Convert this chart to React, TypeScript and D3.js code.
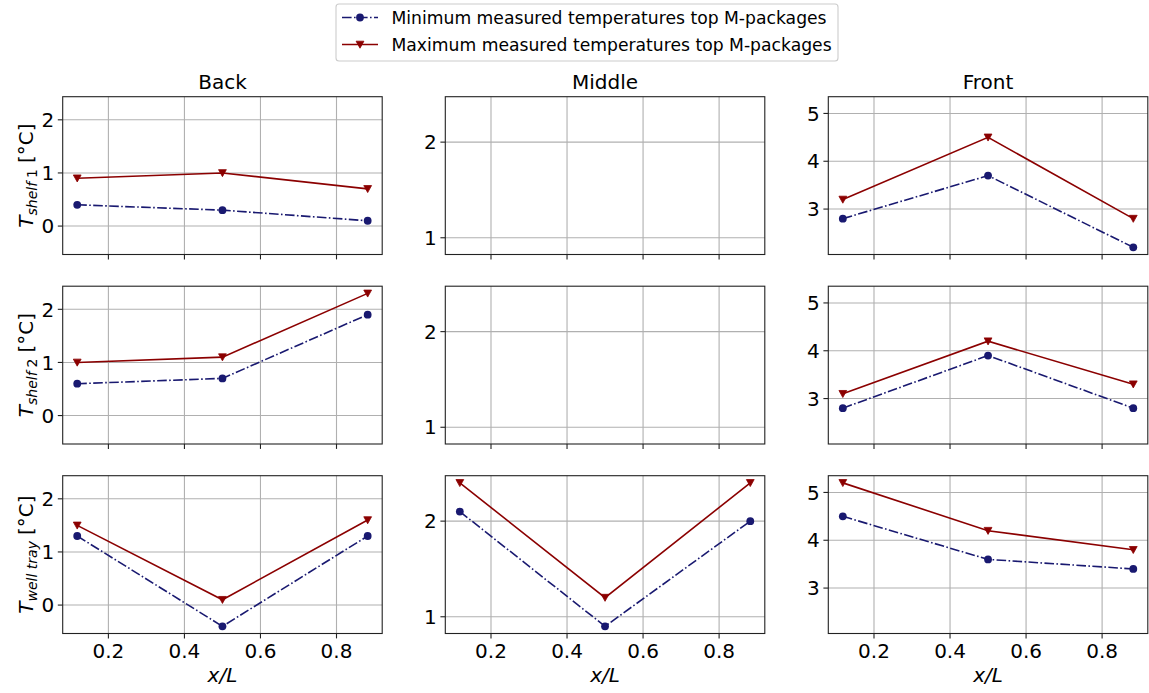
import React from "react";
import * as d3 from "d3";

// ---------- data ----------
const xPositions = [0.118, 0.5, 0.882];
const columnTitles = ["Back", "Middle", "Front"];
const rowSubscripts = [["shelf", "1"], ["shelf", "2"], ["well tray", ""]];
const xTicks = [0.2, 0.4, 0.6, 0.8];
const yTicksBack = [0, 1, 2];
const yTicksMiddle = [1, 2];
const yTicksFront = [3, 4, 5];

// rows: shelf 1, shelf 2, well tray
const backMin = [[0.4, 0.3, 0.1], [0.6, 0.7, 1.9], [1.3, -0.4, 1.3]];
const backMax = [[0.9, 1.0, 0.7], [1.0, 1.1, 2.3], [1.5, 0.1, 1.6]];
const middleMin = [[], [], [2.1, 0.9, 2.0]];
const middleMax = [[], [], [2.4, 1.2, 2.4]];
const frontMin = [[2.8, 3.7, 2.2], [2.8, 3.9, 2.8], [4.5, 3.6, 3.4]];
const frontMax = [[3.2, 4.5, 2.8], [3.1, 4.2, 3.3], [5.2, 4.2, 3.8]];

const legendLabels = [
  "Minimum measured temperatures top M-packages",
  "Maximum measured temperatures top M-packages",
];

// ---------- style ----------
const MIN_COLOR = "#191970";
const MAX_COLOR = "#8b0000";
const FONT = "DejaVu Sans, sans-serif";
const FS = 20;
const LFS = 17.2;
const LINE_W = 1.6;
const DASH = "9.6,2.4,1.6,2.4";
const R = 3.9;

const W = 1149;
const H = 693;
const colLefts = [62.7, 445.3, 828.3];
const rowTops = [96.7, 286.2, 475.7];
const PW = 319.5;
const PH = 157.8;

const columns = [
  { title: columnTitles[0], mins: backMin, maxs: backMax, yTicks: yTicksBack },
  { title: columnTitles[1], mins: middleMin, maxs: middleMax, yTicks: yTicksMiddle },
  { title: columnTitles[2], mins: frontMin, maxs: frontMax, yTicks: yTicksFront },
];

function paddedDomain(values: number[]): [number, number] {
  const lo = d3.min(values) as number;
  const hi = d3.max(values) as number;
  const m = (hi - lo) * 0.05;
  return [lo - m, hi + m];
}

function TriangleDown({ x, y, color }: { x: number; y: number; color: string }) {
  const s = 3.9;
  return (
    <path
      d={`M${x - s},${y - s * 0.85} L${x + s},${y - s * 0.85} L${x},${y + s * 0.95} Z`}
      fill={color}
      stroke={color}
      strokeWidth={0.8}
    />
  );
}

function Panel({ ci, ri }: { ci: number; ri: number }) {
  const col = columns[ci];
  const left = colLefts[ci];
  const top = rowTops[ri];
  const x = d3.scaleLinear().domain(paddedDomain(xPositions)).range([left, left + PW]);
  const allY = col.mins.flat().concat(col.maxs.flat());
  const y = d3.scaleLinear().domain(paddedDomain(allY)).range([top + PH, top]);
  const minData = col.mins[ri];
  const maxData = col.maxs[ri];
  const line = d3
    .line<number>()
    .x((_, i) => x(xPositions[i]))
    .y((d) => y(d));
  const isBottom = ri === 2;
  return (
    <g>
      <rect x={left} y={top} width={PW} height={PH} fill="white" />
      {xTicks.map((t) => (
        <line key={"gx" + t} x1={x(t)} x2={x(t)} y1={top} y2={top + PH} stroke="#b0b0b0" strokeWidth={1.1} />
      ))}
      {col.yTicks.map((t) => (
        <line key={"gy" + t} x1={left} x2={left + PW} y1={y(t)} y2={y(t)} stroke="#b0b0b0" strokeWidth={1.1} />
      ))}
      {minData.length > 0 && (
        <g>
          <path d={line(minData) || ""} fill="none" stroke={MIN_COLOR} strokeWidth={LINE_W} strokeDasharray={DASH} />
          {minData.map((v, i) => (
            <circle key={"mn" + i} cx={x(xPositions[i])} cy={y(v)} r={R} fill={MIN_COLOR} />
          ))}
        </g>
      )}
      {maxData.length > 0 && (
        <g>
          <path d={line(maxData) || ""} fill="none" stroke={MAX_COLOR} strokeWidth={LINE_W} />
          {maxData.map((v, i) => (
            <TriangleDown key={"mx" + i} x={x(xPositions[i])} y={y(v)} color={MAX_COLOR} />
          ))}
        </g>
      )}
      <rect x={left} y={top} width={PW} height={PH} fill="none" stroke="#222" strokeWidth={1.1} />
      {xTicks.map((t) => (
        <line key={"tx" + t} x1={x(t)} x2={x(t)} y1={top + PH} y2={top + PH + 4.9} stroke="#222" strokeWidth={1.1} />
      ))}
      {isBottom &&
        xTicks.map((t) => (
          <text key={"lx" + t} x={x(t)} y={top + PH + 24.5} textAnchor="middle" fontSize={FS} fontFamily={FONT} fill="#000">
            {d3.format(".1f")(t)}
          </text>
        ))}
      {col.yTicks.map((t) => (
        <g key={"ty" + t}>
          <line x1={left - 4.9} x2={left} y1={y(t)} y2={y(t)} stroke="#222" strokeWidth={1.1} />
          <text x={left - 8.5} y={y(t)} dy="0.36em" textAnchor="end" fontSize={FS} fontFamily={FONT} fill="#000">
            {t}
          </text>
        </g>
      ))}
      {ri === 0 && (
        <text x={left + PW / 2} y={top - 7.5} textAnchor="middle" fontSize={FS} fontFamily={FONT} fill="#000">
          {col.title}
        </text>
      )}
      {isBottom && (
        <text x={left + PW / 2} y={top + PH + 48.5} textAnchor="middle" fontSize={FS} fontFamily={FONT} fontStyle="italic" fill="#000">
          x/L
        </text>
      )}
      {ci === 0 && (
        <text
          transform={`translate(33,${top + PH / 2}) rotate(-90)`}
          textAnchor="middle"
          fontSize={FS}
          fontFamily={FONT}
          fill="#000"
        >
          <tspan fontStyle="italic">T</tspan>
          <tspan fontStyle="italic" fontSize={FS * 0.7} dy={3.8}>
            {rowSubscripts[ri][0]}
          </tspan>
          {rowSubscripts[ri][1] && (
            <tspan fontSize={FS * 0.7} dx={4}>
              {rowSubscripts[ri][1]}
            </tspan>
          )}
          <tspan dy={-3.8} dx={6}>
            [°C]
          </tspan>
        </text>
      )}
    </g>
  );
}

function Legend() {
  const lx = 336;
  const ly = 4;
  const lw = 502;
  const lh = 57;
  const rows = [
    { label: legendLabels[0], color: MIN_COLOR, dashed: true, cy: 17.5 },
    { label: legendLabels[1], color: MAX_COLOR, dashed: false, cy: 44.5 },
  ];
  return (
    <g>
      <rect x={lx} y={ly} width={lw} height={lh} rx={3} ry={3} fill="white" fillOpacity={0.8} stroke="#cccccc" strokeWidth={1.1} />
      {rows.map((r, i) => (
        <g key={i}>
          <line
            x1={342}
            x2={378}
            y1={r.cy}
            y2={r.cy}
            stroke={r.color}
            strokeWidth={LINE_W}
            strokeDasharray={r.dashed ? DASH : undefined}
          />
          {r.dashed ? (
            <circle cx={360} cy={r.cy} r={R} fill={r.color} />
          ) : (
            <TriangleDown x={360} y={r.cy} color={r.color} />
          )}
          <text x={391.5} y={r.cy} dy="0.36em" fontSize={LFS} fontFamily={FONT} fill="#000">
            {r.label}
          </text>
        </g>
      ))}
    </g>
  );
}

export default function App() {
  const panels: Array<[number, number]> = [];
  for (let r = 0; r < 3; r++) for (let c = 0; c < 3; c++) panels.push([c, r]);
  return (
    <div style={{ position: "fixed", left: 0, top: 0, width: W, height: H, background: "white" }}>
      <svg width={W} height={H} viewBox={`0 0 ${W} ${H}`} style={{ display: "block" }}>
        <rect width={W} height={H} fill="white" />
        {panels.map(([c, r]) => (
          <Panel key={`${c}-${r}`} ci={c} ri={r} />
        ))}
        <Legend />
      </svg>
    </div>
  );
}
